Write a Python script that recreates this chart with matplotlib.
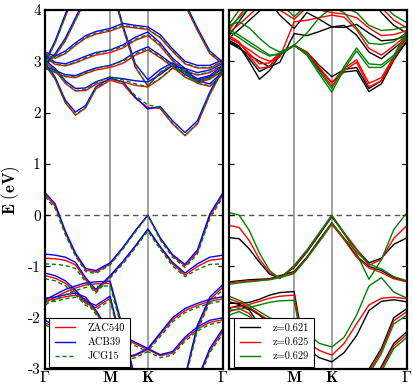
import matplotlib
matplotlib.use("Agg")
import matplotlib.pyplot as plt
from matplotlib.lines import Line2D

plt.rcParams['mathtext.fontset'] = 'cm'
plt.rcParams['axes.unicode_minus'] = False

# ---------------- data ----------------
k_path = [0, 0.09, 0.18, 0.27, 0.36, 0.45, 0.577, 0.69, 0.80, 0.911,
          1.02, 1.13, 1.24, 1.35, 1.46, 1.577]
k_ticks = [0, 0.577, 0.911, 1.577]
k_labels_left = [r'$\Gamma$', r'$\mathbf{M}$', r'$\mathbf{K}$', r'$\Gamma$']
k_labels_right = ['', r'$\mathbf{M}$', r'$\mathbf{K}$', r'$\Gamma$']
e_ticks = [-3, -2, -1, 0, 1, 2, 3, 4]
e_labels = ['-3', '-2', '-1', '0', '1', '2', '3', '4']

left_series = ['ZAC540', 'ACB39', 'JCG15']
right_series = ['z=0.621', 'z=0.625', 'z=0.629']

# left panel, ACB39 (blue)
acb39_bands = [
    [2.97, 2.69, 2.24, 2.01, 2.14, 2.50, 2.67, 2.60, 2.30, 2.07, 2.12, 1.84, 1.61, 1.84, 2.40, 2.88],
    [3.02, 2.86, 2.62, 2.47, 2.48, 2.60, 2.69, 2.66, 2.62, 2.60, 2.74, 2.92, 2.86, 2.62, 2.56, 2.80],
    [2.90, 2.82, 2.74, 2.72, 2.80, 2.87, 2.92, 3.02, 3.18, 3.28, 3.12, 2.94, 2.74, 2.63, 2.70, 2.86],
    [3.12, 2.98, 2.95, 3.02, 3.10, 3.17, 3.22, 3.32, 3.47, 3.57, 3.36, 3.06, 2.86, 2.78, 2.83, 2.96],
    [3.18, 3.10, 3.20, 3.36, 3.50, 3.58, 3.64, 3.74, 3.70, 3.67, 3.52, 3.24, 3.00, 2.92, 2.92, 3.03],
    [3.00, 3.40, 3.92, 4.40, 4.80, 4.80, 4.60, 3.70, 2.95, 2.64, 2.84, 2.97, 2.80, 2.66, 2.72, 2.92],
    [2.95, 3.15, 3.45, 3.85, 4.25, 4.60, 4.90, 4.60, 4.30, 4.10, 4.40, 4.70, 4.15, 3.65, 3.20, 2.98],
    [0.44, 0.22, -0.31, -0.74, -1.04, -1.08, -0.93, -0.63, -0.30, 0.00, -0.44, -0.77, -0.96, -0.68, 0.02, 0.44],
    [-0.76, -0.78, -0.82, -0.92, -1.22, -1.45, -1.18, -0.90, -0.60, -0.27, -0.61, -0.92, -1.13, -0.95, -0.82, -0.78],
    [-1.13, -1.18, -1.28, -1.46, -1.68, -1.76, -1.58, -2.60, -3.40, -3.70, -3.70, -3.70, -3.50, -3.20, -2.60, -2.21],
    [-1.62, -1.60, -1.55, -1.52, -1.60, -1.85, -2.30, -2.36, -2.48, -2.60, -2.72, -2.66, -2.38, -2.18, -2.05, -2.00],
    [-2.05, -2.15, -2.30, -2.45, -2.60, -2.70, -2.75, -2.78, -2.72, -2.60, -2.30, -2.00, -1.82, -1.72, -1.64, -1.59],
    [-1.65, -1.55, -1.45, -1.38, -1.32, -1.30, -1.29, -2.20, -3.20, -3.60, -3.60, -3.50, -3.15, -2.15, -1.60, -1.35],
]

# left panel, ZAC540 (red)
zac540_bands = [
    [2.93, 2.65, 2.19, 1.95, 2.09, 2.46, 2.63, 2.56, 2.28, 2.10, 2.08, 1.78, 1.55, 1.78, 2.35, 2.84],
    [2.98, 2.82, 2.57, 2.42, 2.43, 2.55, 2.65, 2.60, 2.53, 2.50, 2.66, 2.86, 2.80, 2.57, 2.51, 2.76],
    [2.86, 2.78, 2.70, 2.68, 2.76, 2.83, 2.88, 2.96, 3.12, 3.22, 3.07, 2.89, 2.69, 2.58, 2.65, 2.82],
    [3.08, 2.94, 2.91, 2.97, 3.05, 3.12, 3.17, 3.26, 3.41, 3.50, 3.30, 3.01, 2.81, 2.73, 2.78, 2.92],
    [3.14, 3.06, 3.15, 3.31, 3.45, 3.53, 3.59, 3.68, 3.65, 3.62, 3.46, 3.19, 2.95, 2.87, 2.87, 2.99],
    [2.96, 3.36, 3.87, 4.35, 4.75, 4.75, 4.55, 3.65, 2.88, 2.52, 2.78, 2.92, 2.75, 2.61, 2.67, 2.88],
    [2.91, 3.11, 3.40, 3.80, 4.20, 4.55, 4.85, 4.55, 4.25, 4.05, 4.35, 4.65, 4.10, 3.60, 3.15, 2.94],
    [0.40, 0.18, -0.34, -0.77, -1.07, -1.11, -0.95, -0.64, -0.31, 0.00, -0.45, -0.79, -0.99, -0.72, -0.02, 0.40],
    [-0.84, -0.85, -0.88, -0.97, -1.26, -1.49, -1.20, -0.92, -0.61, -0.28, -0.63, -0.95, -1.17, -1.00, -0.88, -0.85],
    [-1.18, -1.23, -1.33, -1.50, -1.72, -1.80, -1.62, -2.62, -3.42, -3.70, -3.70, -3.70, -3.52, -3.22, -2.64, -2.26],
    [-1.66, -1.64, -1.59, -1.56, -1.64, -1.89, -2.34, -2.39, -2.51, -2.62, -2.74, -2.69, -2.42, -2.22, -2.09, -2.04],
    [-2.10, -2.19, -2.34, -2.49, -2.64, -2.74, -2.79, -2.80, -2.74, -2.62, -2.33, -2.04, -1.86, -1.76, -1.68, -1.63],
    [-1.70, -1.60, -1.50, -1.42, -1.36, -1.34, -1.33, -2.24, -3.24, -3.60, -3.60, -3.52, -3.18, -2.20, -1.65, -1.40],
]

# left panel, JCG15 (green dashed)
jcg15_bands = [
    [2.94, 2.66, 2.20, 1.96, 2.10, 2.48, 2.66, 2.60, 2.33, 2.15, 2.10, 1.79, 1.55, 1.79, 2.36, 2.85],
    [2.99, 2.83, 2.58, 2.43, 2.45, 2.58, 2.70, 2.64, 2.56, 2.50, 2.67, 2.87, 2.81, 2.58, 2.52, 2.77],
    [2.87, 2.79, 2.71, 2.69, 2.78, 2.86, 2.92, 3.00, 3.15, 3.24, 3.09, 2.90, 2.70, 2.59, 2.66, 2.83],
    [3.09, 2.95, 2.92, 2.98, 3.07, 3.15, 3.21, 3.29, 3.43, 3.52, 3.32, 3.02, 2.82, 2.74, 2.79, 2.93],
    [3.15, 3.07, 3.16, 3.32, 3.47, 3.55, 3.61, 3.70, 3.67, 3.63, 3.47, 3.20, 2.96, 2.88, 2.88, 3.00],
    [2.97, 3.37, 3.88, 4.36, 4.76, 4.76, 4.56, 3.67, 2.90, 2.52, 2.79, 2.93, 2.76, 2.62, 2.68, 2.89],
    [2.92, 3.12, 3.41, 3.81, 4.21, 4.56, 4.86, 4.56, 4.26, 4.06, 4.36, 4.66, 4.11, 3.61, 3.16, 2.95],
    [0.36, 0.13, -0.38, -0.80, -1.10, -1.14, -0.97, -0.66, -0.33, -0.01, -0.48, -0.82, -1.02, -0.76, -0.07, 0.36],
    [-0.95, -0.96, -0.98, -1.04, -1.30, -1.52, -1.23, -0.95, -0.64, -0.31, -0.66, -0.99, -1.20, -1.06, -0.96, -0.95],
    [-1.24, -1.28, -1.38, -1.55, -1.76, -1.84, -1.66, -2.66, -3.45, -3.70, -3.70, -3.70, -3.55, -3.26, -2.68, -2.31],
    [-1.70, -1.68, -1.63, -1.60, -1.68, -1.93, -2.38, -2.43, -2.55, -2.66, -2.78, -2.73, -2.46, -2.26, -2.13, -2.08],
    [-2.14, -2.23, -2.38, -2.53, -2.68, -2.78, -2.83, -2.84, -2.78, -2.66, -2.37, -2.08, -1.90, -1.80, -1.72, -1.67],
    [-1.75, -1.65, -1.55, -1.47, -1.41, -1.39, -1.38, -2.28, -3.28, -3.60, -3.60, -3.55, -3.22, -2.25, -1.70, -1.45],
]

# right panel, z=0.621 (black)
z0621_bands = [
    [3.41, 3.30, 2.99, 2.65, 2.82, 3.12, 3.31, 3.15, 2.85, 2.59, 2.79, 2.82, 2.41, 2.56, 3.02, 3.41],
    [3.36, 3.25, 3.12, 3.00, 2.89, 2.98, 3.54, 3.50, 3.58, 3.67, 3.70, 3.51, 3.18, 3.05, 3.25, 3.45],
    [3.45, 3.62, 3.80, 3.98, 4.15, 3.90, 3.64, 3.95, 3.82, 3.67, 3.66, 3.72, 3.55, 3.40, 3.42, 3.50],
    [3.50, 3.78, 4.05, 4.40, 4.70, 4.70, 4.50, 4.40, 4.30, 4.25, 4.30, 4.50, 4.30, 3.95, 3.70, 3.55],
    [3.38, 3.28, 3.05, 2.80, 2.90, 3.14, 3.31, 3.18, 2.92, 2.70, 2.84, 2.88, 2.47, 2.62, 3.06, 3.38],
    [-0.44, -0.46, -0.66, -0.92, -1.15, -1.22, -1.02, -0.72, -0.38, -0.03, -0.36, -0.67, -0.93, -0.84, -0.57, -0.44],
    [-1.30, -1.28, -1.26, -1.25, -1.24, -1.18, -1.10, -0.82, -0.48, -0.15, -0.46, -0.80, -1.00, -1.08, -1.22, -1.30],
    [-1.72, -1.72, -1.70, -1.64, -1.56, -1.51, -1.49, -2.90, -3.70, -3.90, -3.90, -3.80, -3.40, -2.95, -2.50, -2.27],
    [-1.69, -1.74, -1.82, -1.95, -2.10, -2.22, -2.35, -2.60, -2.78, -2.86, -2.68, -2.35, -1.86, -1.68, -1.65, -1.69],
    [-1.82, -1.76, -1.85, -2.15, -2.60, -3.10, -3.60, -3.90, -3.90, -3.90, -3.90, -3.60, -3.00, -2.60, -2.00, -1.82],
]

# right panel, z=0.625 (red)
z0625_bands = [
    [3.50, 3.38, 3.10, 2.86, 2.90, 3.15, 3.31, 3.15, 2.82, 2.52, 2.82, 2.98, 2.50, 2.62, 3.05, 3.50],
    [3.45, 3.35, 3.22, 3.08, 3.00, 3.08, 3.77, 3.80, 3.85, 3.90, 3.86, 3.62, 3.25, 3.12, 3.30, 3.52],
    [3.56, 3.72, 3.90, 4.08, 4.25, 4.00, 3.82, 4.05, 4.00, 3.95, 3.92, 3.85, 3.65, 3.50, 3.52, 3.60],
    [3.60, 3.88, 4.15, 4.50, 4.80, 4.80, 4.60, 4.50, 4.40, 4.35, 4.40, 4.60, 4.40, 4.05, 3.80, 3.65],
    [3.46, 3.35, 3.15, 2.95, 2.97, 3.17, 3.31, 3.18, 2.88, 2.58, 2.86, 3.03, 2.57, 2.68, 3.09, 3.46],
    [-0.20, -0.24, -0.50, -0.86, -1.12, -1.22, -1.00, -0.70, -0.36, -0.01, -0.34, -0.66, -0.98, -0.86, -0.45, -0.20],
    [-1.32, -1.30, -1.28, -1.27, -1.25, -1.20, -1.12, -0.84, -0.52, -0.18, -0.48, -0.82, -1.03, -1.12, -1.24, -1.30],
    [-1.80, -1.79, -1.74, -1.68, -1.62, -1.58, -1.56, -2.95, -3.70, -3.90, -3.90, -3.80, -3.45, -3.00, -2.55, -2.32],
    [-1.63, -1.70, -1.80, -1.93, -2.06, -2.18, -2.25, -2.48, -2.64, -2.73, -2.50, -2.12, -1.75, -1.62, -1.60, -1.63],
    [-1.88, -1.82, -1.92, -2.22, -2.68, -3.18, -3.65, -3.90, -3.90, -3.90, -3.90, -3.65, -3.05, -2.65, -2.06, -1.88],
]

# right panel, z=0.629 (green)
z0629_bands = [
    [3.62, 3.51, 3.38, 3.25, 3.12, 3.13, 3.31, 3.12, 2.75, 2.40, 2.85, 3.20, 2.88, 2.88, 3.08, 3.55],
    [3.70, 3.77, 3.65, 3.45, 3.28, 3.18, 3.31, 3.55, 3.85, 4.05, 3.95, 3.65, 3.35, 3.33, 3.38, 3.57],
    [3.66, 3.85, 4.05, 4.25, 4.40, 4.15, 3.87, 4.10, 4.15, 4.10, 4.05, 3.95, 3.70, 3.60, 3.62, 3.68],
    [3.72, 4.00, 4.30, 4.60, 4.90, 4.90, 4.70, 4.60, 4.50, 4.45, 4.50, 4.70, 4.50, 4.15, 3.90, 3.75],
    [3.58, 3.46, 3.32, 3.20, 3.10, 3.16, 3.31, 3.15, 2.80, 2.47, 2.90, 3.26, 2.95, 2.93, 3.12, 3.58],
    [0.05, 0.00, -0.30, -0.74, -1.08, -1.24, -0.98, -0.68, -0.34, 0.00, -0.36, -0.75, -1.25, -0.87, -0.28, 0.05],
    [-1.35, -1.32, -1.30, -1.28, -1.26, -1.22, -1.14, -0.84, -0.50, -0.15, -0.45, -0.72, -0.95, -1.05, -1.20, -1.28],
    [-1.85, -1.84, -1.80, -1.75, -1.70, -1.67, -1.66, -3.00, -3.70, -3.90, -3.90, -3.80, -3.50, -3.05, -2.60, -2.38],
    [-1.58, -1.66, -1.76, -1.88, -2.00, -2.10, -2.05, -2.31, -2.50, -2.57, -2.38, -1.95, -1.38, -1.22, -1.50, -1.62],
    [-1.95, -1.88, -1.98, -2.30, -2.75, -3.25, -3.70, -3.90, -3.90, -3.90, -3.90, -3.70, -3.10, -2.70, -2.12, -1.95],
]

# ---------------- figure ----------------
W, H = 414, 388
fig = plt.figure(figsize=(W / 100, H / 100), dpi=100)
bottom = 1 - 369 / H
height = 359 / H
axL = fig.add_axes([45 / W, bottom, 178 / W, height])
axR = fig.add_axes([229 / W, bottom, 178 / W, height])

tick_font = dict(family='cmr10', size=11)
legend_font = dict(family='cmr10', size=7.5)

left_styles = [dict(color='#ff0000', ls='-'),
               dict(color='#0000ff', ls='-'),
               dict(color='#008000', ls=(0, (3, 2)))]
right_styles = [dict(color='#000000', ls='-'),
                dict(color='#ff0000', ls='-'),
                dict(color='#008000', ls='-')]


def setup(ax, labels, show_y):
    ax.set_xlim(k_path[0], k_path[-1])
    ax.set_ylim(-3, 4)
    for xv in k_ticks[1:3]:
        ax.axvline(xv, color='#888888', lw=1.1, zorder=1)
    ax.axhline(0, color='#555555', lw=1.0, ls=(0, (4, 3)), zorder=1)
    ax.set_xticks(k_ticks)
    ax.set_xticklabels(labels, fontsize=11.5)
    ax.tick_params(axis='x', length=0, pad=1)
    ax.set_yticks(e_ticks)
    if show_y:
        ax.set_yticklabels(e_labels, fontdict=tick_font)
    else:
        ax.set_yticklabels([])
    ax.tick_params(axis='y', direction='in', length=3.5, width=0.8,
                   left=True, right=True, pad=3)
    for s in ax.spines.values():
        s.set_linewidth(1.6)


setup(axL, k_labels_left, True)
setup(axR, k_labels_right, False)

for bands, st in zip([zac540_bands, acb39_bands, jcg15_bands], left_styles):
    for b in bands:
        axL.plot(k_path, b, lw=1.0, zorder=2, **st)

for bands, st in zip([z0621_bands, z0625_bands, z0629_bands], right_styles):
    for b in bands:
        axR.plot(k_path, b, lw=1.0, zorder=2, **st)

handlesL = [Line2D([], [], lw=1.0, **st) for st in left_styles]
handlesR = [Line2D([], [], lw=1.0, **st) for st in right_styles]
for ax, hs, labs, dx in [(axL, handlesL, left_series, 4.3),
                         (axR, handlesR, right_series, 5.3)]:
    leg = ax.legend(hs, labs, loc='lower left',
                    bbox_to_anchor=(dx / 178, 2.3 / 359), borderaxespad=0,
                    prop=legend_font, fancybox=False, framealpha=1,
                    edgecolor='black', handlelength=2.0, handletextpad=1.2,
                    labelspacing=0.45, borderpad=0.5)
    leg.get_frame().set_linewidth(0.8)
    leg.set_zorder(5)

fig.text(11 / W, 1 - 190 / H, r'$\mathbf{E\ (eV)}$', rotation=90,
         ha='center', va='center', fontsize=12)

fig.savefig('out.png', dpi=100)
